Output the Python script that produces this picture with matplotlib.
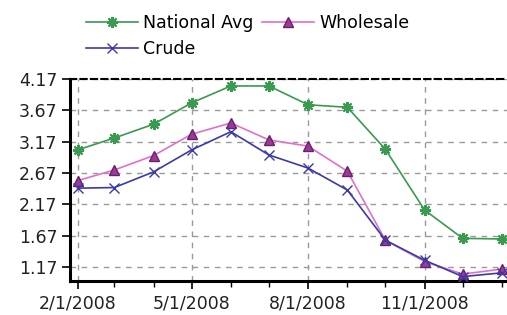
import matplotlib
matplotlib.use("Agg")
import matplotlib.pyplot as plt
import matplotlib.dates as mdates
import numpy as np
from datetime import date

months = [date(2008, m, 1) for m in range(2, 13)] + [date(2009, 1, 1)]
national_avg = [3.04, 3.23, 3.45, 3.79, 4.06, 4.06, 3.76, 3.72, 3.05, 2.08, 1.63, 1.62]
wholesale = [2.55, 2.72, 2.95, 3.29, 3.47, 3.20, 3.10, 2.70, 1.60, 1.26, 1.06, 1.14]
crude = [2.43, 2.44, 2.69, 3.04, 3.33, 2.96, 2.75, 2.40, 1.60, 1.28, 1.02, 1.08]
y_ticks = [1.17, 1.67, 2.17, 2.67, 3.17, 3.67, 4.17]

plt.rcParams['font.family'] = 'DejaVu Sans'
fig = plt.figure(figsize=(5.07, 3.15), dpi=100)
ax = fig.add_axes([0.138, 0.108, 0.862, 0.641])

l1, = ax.plot(months, national_avg, color='#3a9a50', lw=1.2,
              marker=(8, 2, 0), ms=8, mew=1.5, zorder=3)
l2, = ax.plot(months, wholesale, color='#e070cc', lw=1.2,
              marker='^', ms=7, mfc='#9c3a98', mec='#6a1f6a', zorder=3)
l3, = ax.plot(months, crude, color='#3a3aa8', lw=1.2,
              marker='x', ms=7, mew=1.0, zorder=3)

ax.set_xlim(date(2008, 1, 26), date(2009, 1, 5))
ax.set_ylim(0.95, 4.17)
ax.set_yticks(y_ticks)
ax.set_yticklabels(['%.2f' % v for v in y_ticks])

ax.xaxis.set_major_locator(mdates.MonthLocator(bymonth=[2, 5, 8, 11]))
ax.xaxis.set_minor_locator(mdates.MonthLocator())
ax.xaxis.set_major_formatter(
    matplotlib.ticker.FuncFormatter(lambda x, p: '%d/1/%d' % (mdates.num2date(x).month, mdates.num2date(x).year)))

ax.grid(True, which='major', color='#9a9a9a', ls=(0, (4, 4)), lw=1.0)
ax.tick_params(axis='both', which='major', labelsize=12.5, labelcolor='#222222',
               direction='out', length=6, width=1.2)
ax.tick_params(axis='x', which='minor', direction='out', length=4, width=1.0)
ax.tick_params(axis='y', pad=3)

for s in ['left', 'bottom']:
    ax.spines[s].set_linewidth(2.2)
ax.spines['top'].set_linestyle((0, (3, 2)))
ax.spines['top'].set_linewidth(1.5)
ax.spines['right'].set_visible(False)

fig.legend([l1, l3, l2], ['National Avg', 'Crude', 'Wholesale'], ncol=2,
           loc='upper left', bbox_to_anchor=(0.145, 0.995), frameon=False,
           fontsize=12.5, handlelength=3, handletextpad=0.3,
           columnspacing=0.5, labelspacing=0.5, borderaxespad=0.3)

fig.savefig('out.png', dpi=100)
